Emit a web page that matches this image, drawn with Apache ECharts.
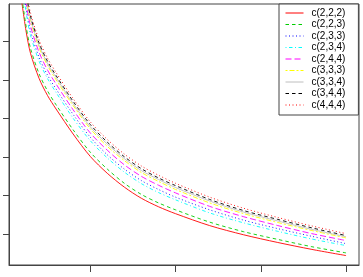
<!DOCTYPE html>
<html>
<head>
<meta charset="utf-8">
<script src="https://cdn.jsdelivr.net/npm/echarts@6/dist/echarts.min.js"></script>
<style>
  html, body { margin: 0; padding: 0; background: #fff; }
  #chartmain { width: 363px; height: 277px; }
</style>
</head>
<body>
<div id="chartmain"></div>
<script>
// x positions of the curves
var xs = [1, 1.25, 1.5, 2, 2.5, 3, 4, 5, 6, 7, 8, 9, 10, 12, 14, 16, 18, 20];

// one array per curve
var c222 = [7.00, 6.25, 5.70, 5.05, 4.60, 4.25, 3.60, 3.02, 2.58, 2.22, 1.93, 1.71, 1.53, 1.22, 0.98, 0.78, 0.60, 0.44];
var c223 = [7.13, 6.38, 5.83, 5.17, 4.72, 4.36, 3.71, 3.13, 2.69, 2.32, 2.03, 1.81, 1.63, 1.31, 1.06, 0.86, 0.67, 0.51];
var c233 = [7.61, 6.84, 6.28, 5.60, 5.13, 4.77, 4.11, 3.52, 3.06, 2.69, 2.39, 2.16, 1.96, 1.63, 1.36, 1.14, 0.94, 0.75];
var c234 = [7.50, 6.74, 6.17, 5.50, 5.04, 4.68, 4.01, 3.43, 2.98, 2.61, 2.31, 2.08, 1.89, 1.55, 1.29, 1.07, 0.87, 0.70];
var c244 = [7.75, 6.98, 6.41, 5.73, 5.26, 4.90, 4.23, 3.63, 3.18, 2.80, 2.50, 2.27, 2.07, 1.72, 1.45, 1.22, 1.01, 0.83];
var c333 = [7.88, 7.11, 6.54, 5.85, 5.38, 5.01, 4.34, 3.74, 3.28, 2.91, 2.60, 2.37, 2.16, 1.81, 1.53, 1.30, 1.09, 0.90];
var c334 = [7.95, 7.18, 6.60, 5.91, 5.43, 5.07, 4.39, 3.79, 3.34, 2.96, 2.65, 2.42, 2.21, 1.86, 1.57, 1.34, 1.12, 0.93];
var c344 = [8.01, 7.24, 6.67, 5.97, 5.49, 5.12, 4.45, 3.85, 3.39, 3.01, 2.70, 2.46, 2.26, 1.90, 1.61, 1.38, 1.16, 0.96];
var c444 = [8.10, 7.33, 6.75, 6.05, 5.57, 5.20, 4.52, 3.92, 3.46, 3.08, 2.77, 2.53, 2.32, 1.96, 1.67, 1.43, 1.21, 1.01];

var names = ['c(2,2,2)', 'c(2,2,3)', 'c(2,3,3)', 'c(2,3,4)', 'c(2,4,4)', 'c(3,3,3)', 'c(3,3,4)', 'c(3,4,4)', 'c(4,4,4)'];
var values = [c222, c223, c233, c234, c244, c333, c334, c344, c444];

// tick positions (no labels shown in the picture)
var xTicks = [5, 10, 15, 20];
var yTicks = [1, 2, 3, 4, 5, 6];

// R palette colours and line types
var colors = ['#FF0000', '#00CD00', '#0000FF', '#00FFFF', '#FF00FF', '#FFFF00', '#BEBEBE', '#000000', '#FF0000'];
var dashes = ['solid', [3.5, 3], [1, 2.5], [1, 2.5, 3.5, 2.5], [6, 3], [2, 2, 5, 2], 'solid', [3.5, 3], [1, 2.5]];

var series = [];
for (var i = 0; i < names.length; i++) {
  var pts = [];
  for (var j = 0; j < xs.length; j++) {
    pts.push([xs[j], values[i][j]]);
  }
  series.push({
    name: names[i],
    type: 'line',
    data: pts,
    smooth: 0.3,
    symbol: 'none',
    clip: true,
    lineStyle: { color: colors[i], width: 0.9, type: dashes[i] },
    itemStyle: { color: colors[i] }
  });
}

var option = {
  animation: false,
  grid: {
    left: 9, right: 4, top: 4, bottom: 12,
    show: true,
    borderColor: '#444',
    borderWidth: 1
  },
  legend: {
    orient: 'vertical',
    align: 'left',
    left: 279,
    top: 4,
    padding: [4, 13, 5, 6],
    itemGap: 1.5,
    itemWidth: 18,
    itemHeight: 10,
    backgroundColor: '#fff',
    borderColor: '#444',
    borderWidth: 1,
    borderRadius: 0,
    // only the line sample, no marker
    itemStyle: { opacity: 0 },
    lineStyle: { width: 1 },
    textStyle: { fontFamily: 'Liberation Sans', fontSize: 10, color: '#000', padding: [0, 0, 0, 3] },
    data: names
  },
  xAxis: {
    type: 'value',
    min: 0.24,
    max: 20.76,
    axisLine: { show: true, lineStyle: { color: '#444' } },
    axisTick: { show: true, customValues: xTicks, length: 7, lineStyle: { color: '#444' } },
    axisLabel: { show: false },
    splitLine: { show: false }
  },
  yAxis: {
    type: 'value',
    min: 0.195,
    max: 6.98,
    axisLine: { show: true, lineStyle: { color: '#444' } },
    axisTick: { show: true, customValues: yTicks, length: 6, lineStyle: { color: '#444' } },
    axisLabel: { show: false },
    splitLine: { show: false }
  },
  series: series
};

var chartmain = echarts.init(document.getElementById('chartmain'));
chartmain.setOption(option);
</script>
</body>
</html>
